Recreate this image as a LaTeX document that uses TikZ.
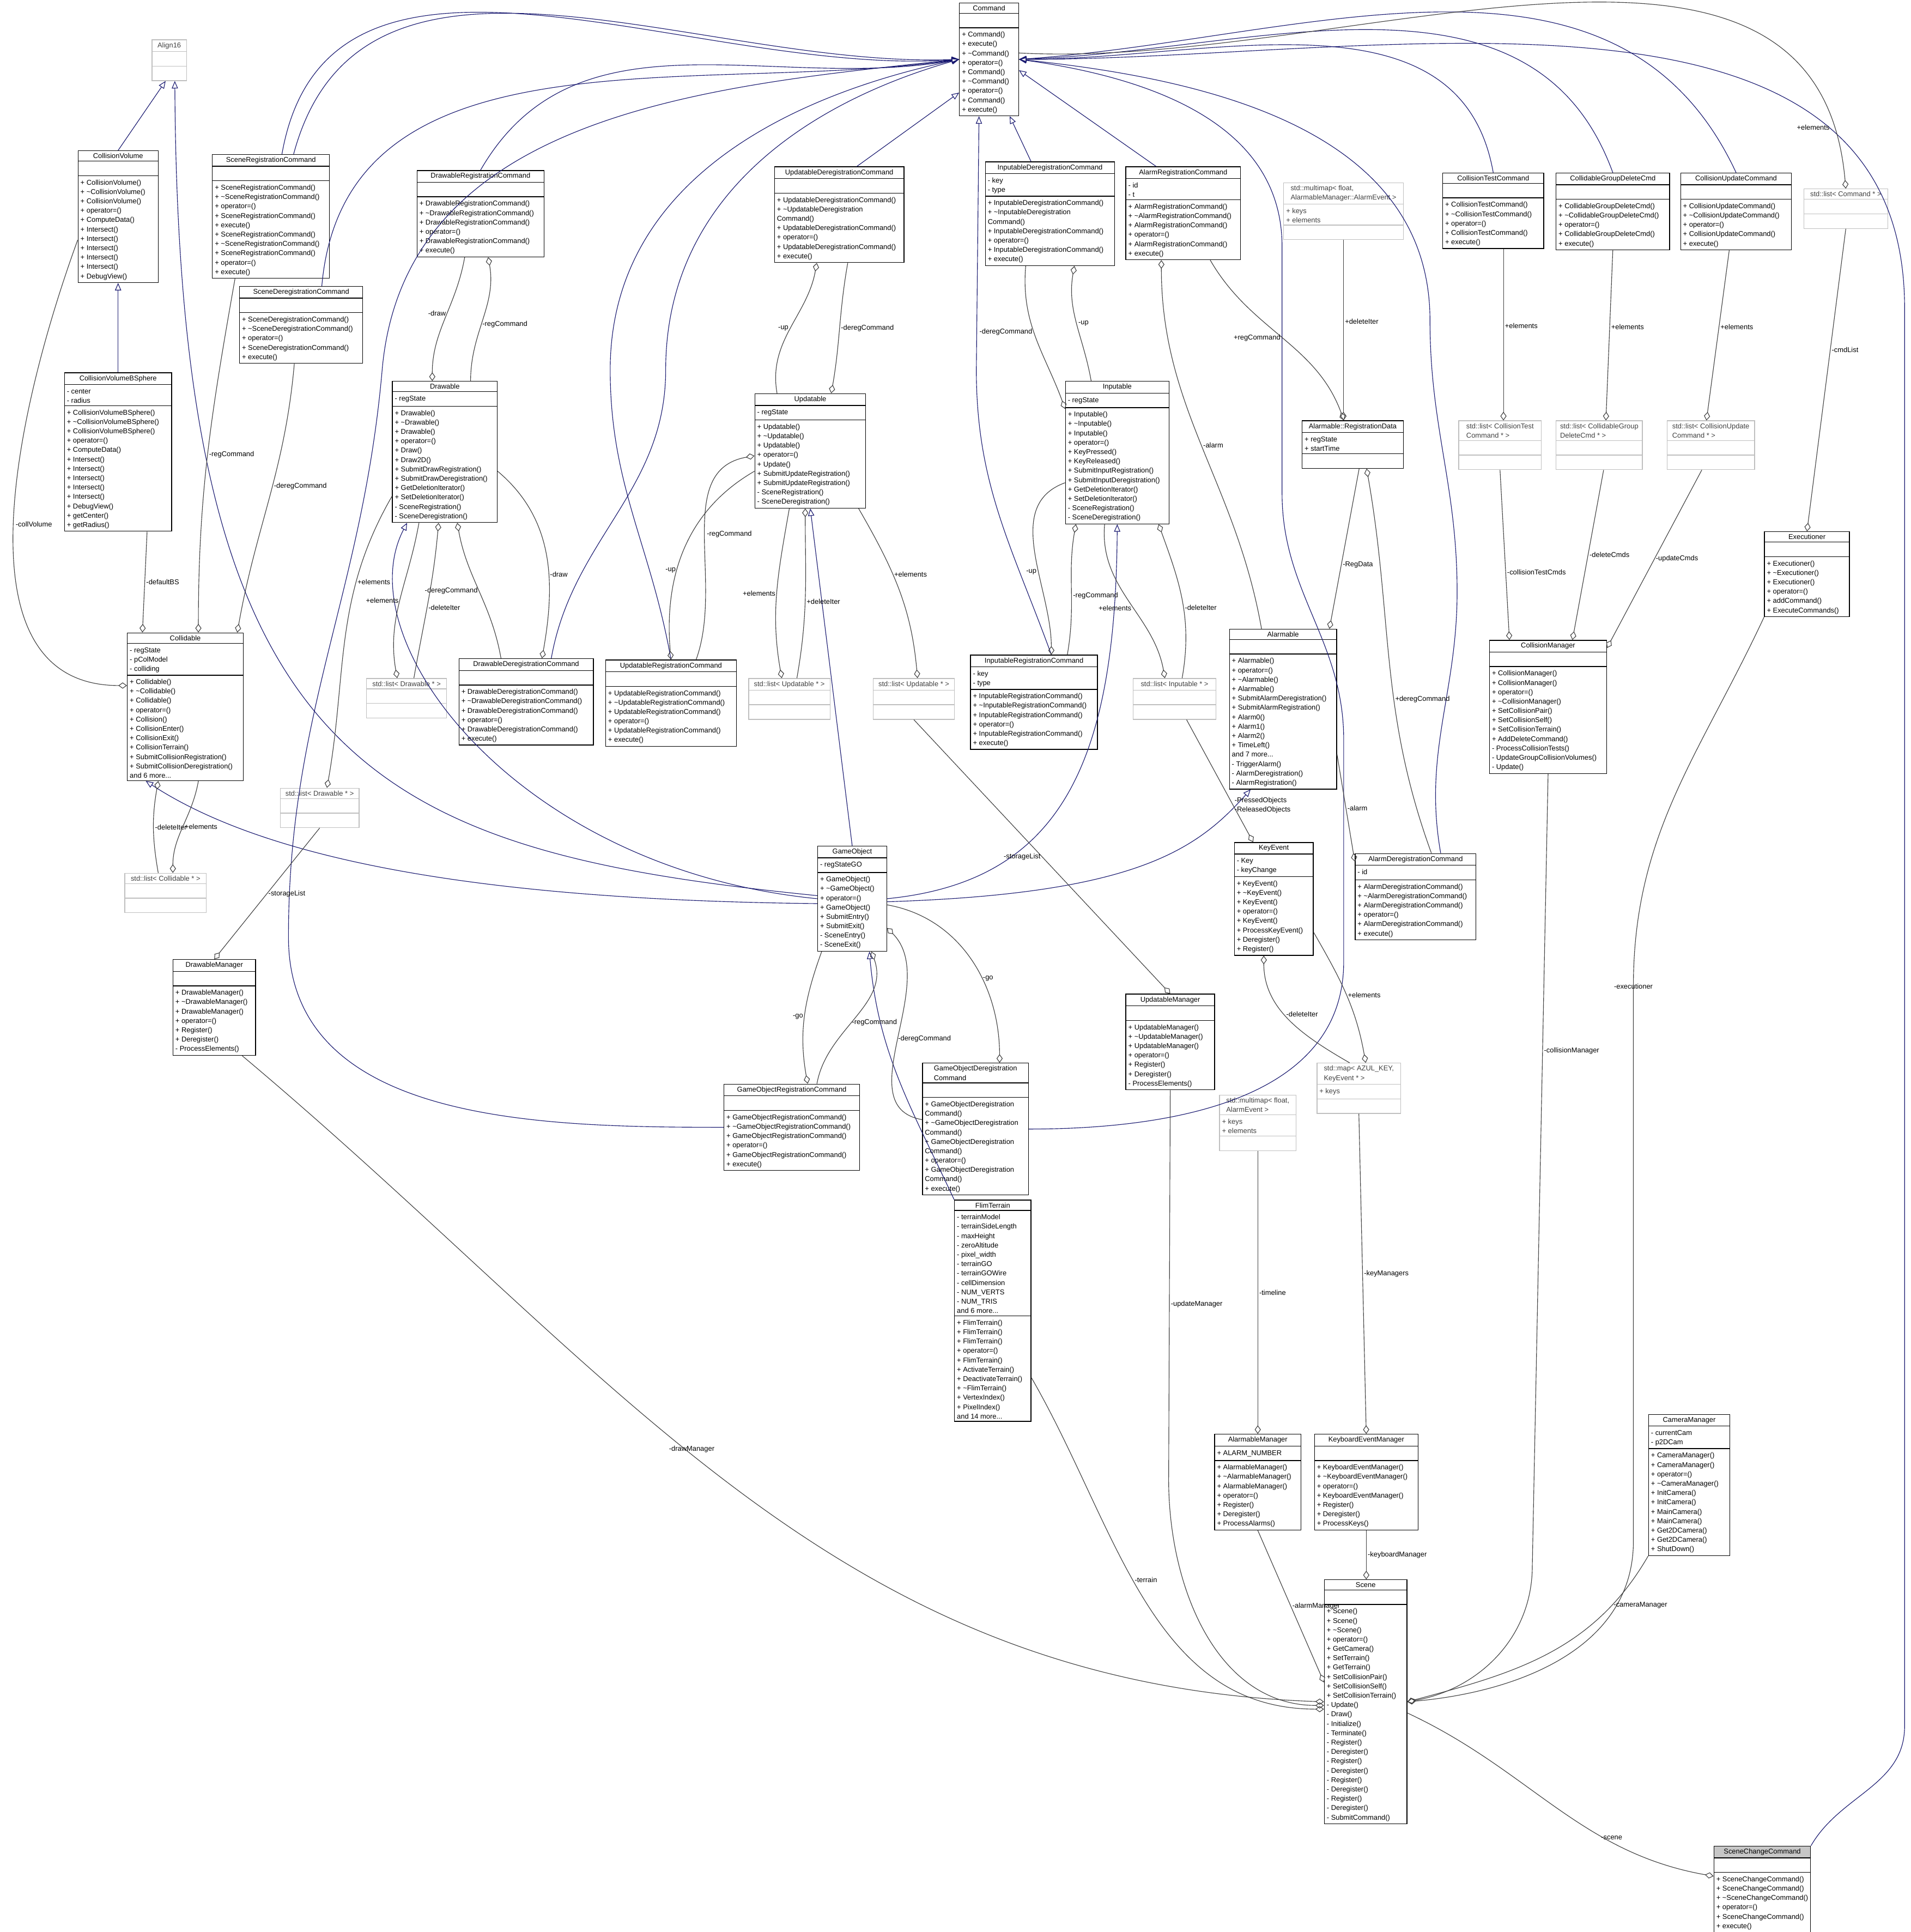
\documentclass[tikz,border=0pt]{standalone}
\usepackage{fontspec}
\setmainfont{Liberation Sans}
\usetikzlibrary{shapes.multipart,arrows.meta,calc}
\definecolor{navy}{RGB}{25,25,112}
\definecolor{edgegray}{RGB}{64,64,64}
\definecolor{boxgray}{RGB}{191,191,191}
\newcommand{\clsfont}{\fontsize{5.7}{7.6}\selectfont}
\newcommand{\dt}{\textasciitilde}
% class box: [options]{name}{x,y}{width}{title}{attributes}{methods}
\newcommand{\cls}[7][]{\node[cls,#1,minimum width=#4pt] (#2) at (#3) {#5\nodepart{two}\strut#6\nodepart{three}\strut#7};}

\begin{document}
\begin{tikzpicture}
[x=1pt,y=-1pt]
\tikzset{cls/.style={rectangle split, rectangle split parts=3, draw, anchor=north west, align=left,
  rectangle split part align={center,left,left},
  inner xsep=2pt, inner ysep=1.8pt, font=\clsfont, line width=.6pt}}
\tikzset{ext/.style={draw=boxgray, text=black!75}}
\tikzset{cur/.style={rectangle split part fill={gray!45,white,white}}}
\tikzset{inh/.style={draw=navy, line width=.5pt, -{Triangle[open,length=6pt,width=5pt]}}}
\tikzset{use/.style={draw=edgegray, line width=.5pt, -{Diamond[open,length=7pt,width=5pt]}}}
\tikzset{lbl/.style={font=\clsfont, inner sep=1pt, text=black}}
\useasboundingbox (0,0) rectangle (1550,1567);

% classes
\cls{cmd}{778,2}{48}{Command}{}{+ Command()\\+ execute()\\+ \dt Command()\\+ operator=()\\+ Command()\\+ \dt Command()\\+ operator=()\\+ Command()\\+ execute()}
\cls[ext]{al}{123,32}{28}{Align16}{}{}
\cls{cv}{63,122}{65}{CollisionVolume}{}{+ CollisionVolume()\\+ \dt CollisionVolume()\\+ CollisionVolume()\\+ operator=()\\+ ComputeData()\\+ Intersect()\\+ Intersect()\\+ Intersect()\\+ Intersect()\\+ Intersect()\\+ DebugView()}
\cls{src}{172,125}{95}{SceneRegistrationCommand}{}{+ SceneRegistrationCommand()\\+ \dt SceneRegistrationCommand()\\+ operator=()\\+ SceneRegistrationCommand()\\+ execute()\\+ SceneRegistrationCommand()\\+ \dt SceneRegistrationCommand()\\+ SceneRegistrationCommand()\\+ operator=()\\+ execute()}
\cls{drc}{338,138}{103}{DrawableRegistrationCommand}{}{+ DrawableRegistrationCommand()\\+ \dt DrawableRegistrationCommand()\\+ DrawableRegistrationCommand()\\+ operator=()\\+ DrawableRegistrationCommand()\\+ execute()}
\cls{udc}{628,135}{105}{UpdatableDeregistrationCommand}{}{+ UpdatableDeregistrationCommand()\\+ \dt UpdatableDeregistration\\Command()\\+ UpdatableDeregistrationCommand()\\+ operator=()\\+ UpdatableDeregistrationCommand()\\+ execute()}
\cls{idc}{799,131}{105}{InputableDeregistrationCommand}{- key\\- type}{+ InputableDeregistrationCommand()\\+ \dt InputableDeregistration\\Command()\\+ InputableDeregistrationCommand()\\+ operator=()\\+ InputableDeregistrationCommand()\\+ execute()}
\cls{arc}{913,135}{93}{AlarmRegistrationCommand}{- id\\- t}{+ AlarmRegistrationCommand()\\+ \dt AlarmRegistrationCommand()\\+ AlarmRegistrationCommand()\\+ operator=()\\+ AlarmRegistrationCommand()\\+ execute()}
\cls[ext]{mmap}{1041,148}{97}{std::multimap< float,\\ AlarmableManager::AlarmEvent >}{+ keys\\+ elements}{}
\cls{ctc}{1170,140}{82}{CollisionTestCommand}{}{+ CollisionTestCommand()\\+ \dt CollisionTestCommand()\\+ operator=()\\+ CollisionTestCommand()\\+ execute()}
\cls{cgd}{1262,140}{92}{CollidableGroupDeleteCmd}{}{+ CollidableGroupDeleteCmd()\\+ \dt CollidableGroupDeleteCmd()\\+ operator=()\\+ CollidableGroupDeleteCmd()\\+ execute()}
\cls{cuc}{1363,140}{90}{CollisionUpdateCommand}{}{+ CollisionUpdateCommand()\\+ \dt CollisionUpdateCommand()\\+ operator=()\\+ CollisionUpdateCommand()\\+ execute()}
\cls[ext]{lcmd}{1463,153}{68}{std::list< Command * >}{}{}
\cls{sdc}{194,232}{100}{SceneDeregistrationCommand}{}{+ SceneDeregistrationCommand()\\+ \dt SceneDeregistrationCommand()\\+ operator=()\\+ SceneDeregistrationCommand()\\+ execute()}
\cls{cvb}{52,302}{87}{CollisionVolumeBSphere}{- center\\- radius}{+ CollisionVolumeBSphere()\\+ \dt CollisionVolumeBSphere()\\+ CollisionVolumeBSphere()\\+ operator=()\\+ ComputeData()\\+ Intersect()\\+ Intersect()\\+ Intersect()\\+ Intersect()\\+ Intersect()\\+ DebugView()\\+ getCenter()\\+ getRadius()}
\cls{drw}{318,309}{85}{Drawable}{- regState}{+ Drawable()\\+ \dt Drawable()\\+ Drawable()\\+ operator=()\\+ Draw()\\+ Draw2D()\\+ SubmitDrawRegistration()\\+ SubmitDrawDeregistration()\\+ GetDeletionIterator()\\+ SetDeletionIterator()\\- SceneRegistration()\\- SceneDeregistration()}
\cls{upd}{612,319}{90}{Updatable}{- regState}{+ Updatable()\\+ \dt Updatable()\\+ Updatable()\\+ operator=()\\+ Update()\\+ SubmitUpdateRegistration()\\+ SubmitUpdateRegistration()\\- SceneRegistration()\\- SceneDeregistration()}
\cls{inp}{864,309}{84}{Inputable}{- regState}{+ Inputable()\\+ \dt Inputable()\\+ Inputable()\\+ operator=()\\+ KeyPressed()\\+ KeyReleased()\\+ SubmitInputRegistration()\\+ SubmitInputDeregistration()\\+ GetDeletionIterator()\\+ SetDeletionIterator()\\- SceneRegistration()\\- SceneDeregistration()}
\cls{rdat}{1056,341}{82}{Alarmable::RegistrationData}{+ regState\\+ startTime}{}
\cls[ext]{lctc}{1183,341}{67}{std::list< CollisionTest\\ Command * >}{}{}
\cls[ext]{lcgd}{1262,341}{70}{std::list< CollidableGroup\\ DeleteCmd * >}{}{}
\cls[ext]{lcuc}{1352,341}{71}{std::list< CollisionUpdate\\ Command * >}{}{}
\cls{exe}{1431,431}{69}{Executioner}{}{+ Executioner()\\+ \dt Executioner()\\+ Executioner()\\+ operator=()\\+ addCommand()\\+ ExecuteCommands()}
\cls{cld}{103,513}{94}{Collidable}{- regState\\- pColModel\\- colliding}{+ Collidable()\\+ \dt Collidable()\\+ Collidable()\\+ operator=()\\+ Collision()\\+ CollisionEnter()\\+ CollisionExit()\\+ CollisionTerrain()\\+ SubmitCollisionRegistration()\\+ SubmitCollisionDeregistration()\\and 6 more...}
\cls[ext]{ldrwa}{297,550}{65}{std::list< Drawable * >}{}{}
\cls{ddc}{372,534}{109}{DrawableDeregistrationCommand}{}{+ DrawableDeregistrationCommand()\\+ \dt DrawableDeregistrationCommand()\\+ DrawableDeregistrationCommand()\\+ operator=()\\+ DrawableDeregistrationCommand()\\+ execute()}
\cls{urc}{491,535}{106}{UpdatableRegistrationCommand}{}{+ UpdatableRegistrationCommand()\\+ \dt UpdatableRegistrationCommand()\\+ UpdatableRegistrationCommand()\\+ operator=()\\+ UpdatableRegistrationCommand()\\+ execute()}
\cls[ext]{lupda}{607,550}{66}{std::list< Updatable * >}{}{}
\cls[ext]{lupdb}{708,550}{66}{std::list< Updatable * >}{}{}
\cls{irc}{787,531}{103}{InputableRegistrationCommand}{- key\\- type}{+ InputableRegistrationCommand()\\+ \dt InputableRegistrationCommand()\\+ InputableRegistrationCommand()\\+ operator=()\\+ InputableRegistrationCommand()\\+ execute()}
\cls[ext]{linp}{919,550}{67}{std::list< Inputable * >}{}{}
\cls{alm}{997,510}{87}{Alarmable}{}{+ Alarmable()\\+ operator=()\\+ \dt Alarmable()\\+ Alarmable()\\+ SubmitAlarmDeregistration()\\+ SubmitAlarmRegistration()\\+ Alarm0()\\+ Alarm1()\\+ Alarm2()\\+ TimeLeft()\\and 7 more...\\- TriggerAlarm()\\- AlarmDeregistration()\\- AlarmRegistration()}
\cls{colm}{1208,519}{95}{CollisionManager}{}{+ CollisionManager()\\+ CollisionManager()\\+ operator=()\\+ \dt CollisionManager()\\+ SetCollisionPair()\\+ SetCollisionSelf()\\+ SetCollisionTerrain()\\+ AddDeleteCommand()\\- ProcessCollisionTests()\\- UpdateGroupCollisionVolumes()\\- Update()}
\cls[ext]{ldrwb}{227,639}{64}{std::list< Drawable * >}{}{}
\cls[ext]{lcld}{101,708}{66}{std::list< Collidable * >}{}{}
\cls{go}{663,686}{56}{GameObject}{- regStateGO}{+ GameObject()\\+ \dt GameObject()\\+ operator=()\\+ GameObject()\\+ SubmitEntry()\\+ SubmitExit()\\- SceneEntry()\\- SceneExit()}
\cls{kev}{1001,683}{64}{KeyEvent}{- Key\\- keyChange}{+ KeyEvent()\\+ \dt KeyEvent()\\+ KeyEvent()\\+ operator=()\\+ KeyEvent()\\+ ProcessKeyEvent()\\+ Deregister()\\+ Register()}
\cls{adc}{1099,692}{98}{AlarmDeregistrationCommand}{- id}{+ AlarmDeregistrationCommand()\\+ \dt AlarmDeregistrationCommand()\\+ AlarmDeregistrationCommand()\\+ operator=()\\+ AlarmDeregistrationCommand()\\+ execute()}
\cls{dmgr}{140,778}{67}{DrawableManager}{}{+ DrawableManager()\\+ \dt DrawableManager()\\+ DrawableManager()\\+ operator=()\\+ Register()\\+ Deregister()\\- ProcessElements()}
\cls{umgr}{913,806}{72}{UpdatableManager}{}{+ UpdatableManager()\\+ \dt UpdatableManager()\\+ UpdatableManager()\\+ operator=()\\+ Register()\\+ Deregister()\\- ProcessElements()}
\cls[ext]{kmap}{1068,862}{68}{std::map< AZUL\_KEY,\\ KeyEvent * >}{+ keys}{}
\cls{gorc}{587,879}{110}{GameObjectRegistrationCommand}{}{+ GameObjectRegistrationCommand()\\+ \dt GameObjectRegistrationCommand()\\+ GameObjectRegistrationCommand()\\+ operator=()\\+ GameObjectRegistrationCommand()\\+ execute()}
\cls{godc}{748,862}{86}{GameObjectDeregistration\\ Command}{}{+ GameObjectDeregistration\\Command()\\+ \dt GameObjectDeregistration\\Command()\\+ GameObjectDeregistration\\Command()\\+ operator=()\\+ GameObjectDeregistration\\Command()\\+ execute()}
\cls[ext]{tmap}{989,888}{62}{std::multimap< float,\\ AlarmEvent >}{+ keys\\+ elements}{}
\cls{flt}{774,973}{62}{FlimTerrain}{- terrainModel\\- terrainSideLength\\- maxHeight\\- zeroAltitude\\- pixel\_width\\- terrainGO\\- terrainGOWire\\- cellDimension\\- NUM\_VERTS\\- NUM\_TRIS\\and 6 more...}{+ FlimTerrain()\\+ FlimTerrain()\\+ FlimTerrain()\\+ operator=()\\+ FlimTerrain()\\+ ActivateTerrain()\\+ DeactivateTerrain()\\+ \dt FlimTerrain()\\+ VertexIndex()\\+ PixelIndex()\\and 14 more...}
\cls{camm}{1337,1147}{66}{CameraManager}{- currentCam\\- p2DCam}{+ CameraManager()\\+ CameraManager()\\+ operator=()\\+ \dt CameraManager()\\+ InitCamera()\\+ InitCamera()\\+ MainCamera()\\+ MainCamera()\\+ Get2DCamera()\\+ Get2DCamera()\\+ ShutDown()}
\cls{amgr}{985,1163}{70}{AlarmableManager}{+ ALARM\_NUMBER}{+ AlarmableManager()\\+ \dt AlarmableManager()\\+ AlarmableManager()\\+ operator=()\\+ Register()\\+ Deregister()\\+ ProcessAlarms()}
\cls{kmgr}{1066,1163}{84}{KeyboardEventManager}{}{+ KeyboardEventManager()\\+ \dt KeyboardEventManager()\\+ operator=()\\+ KeyboardEventManager()\\+ Register()\\+ Deregister()\\+ ProcessKeys()}
\cls{scn}{1074,1281}{67}{Scene}{}{+ Scene()\\+ Scene()\\+ \dt Scene()\\+ operator=()\\+ GetCamera()\\+ SetTerrain()\\+ GetTerrain()\\+ SetCollisionPair()\\+ SetCollisionSelf()\\+ SetCollisionTerrain()\\- Update()\\- Draw()\\- Initialize()\\- Terminate()\\- Register()\\- Deregister()\\- Register()\\- Deregister()\\- Register()\\- Deregister()\\- Register()\\- Deregister()\\- SubmitCommand()}
\cls[cur]{scc}{1390,1497}{77}{SceneChangeCommand}{}{+ SceneChangeCommand()\\+ SceneChangeCommand()\\+ \dt SceneChangeCommand()\\+ operator=()\\+ SceneChangeCommand()\\+ execute()}

% inheritance
\draw[inh] (cv.north) -- (al.-100);
\draw[inh] (cvb.north) -- (cv.south);
\draw[inh] (go.175) .. controls (300,690) and (145,620) .. (al.-75);
\draw[inh] (src.70) to[out=75,in=182] (cmd.west);
\draw[inh] (src.80) to[out=80,in=184] (cmd.west);
\draw[inh] (sdc.62) to[out=85,in=188] (cmd.west);
\draw[inh] (drc.north) to[out=60,in=190] (cmd.west);
\draw[inh] (gorc.west) to[out=180,in=-90] (234,760) to[out=90,in=-95] (310,300) to[out=85,in=186] (cmd.west);
\draw[inh] (urc.north) to[out=100,in=-90] (495,300) to[out=90,in=192] (cmd.west);
\draw[inh] (ddc.60) to[out=80,in=-90] (540,300) to[out=90,in=196] (cmd.west);
\draw[inh] (udc.70) -- (cmd.228);
\draw[inh] (irc.70) to[out=110,in=-90] (792,300) -- (cmd.-100);
\draw[inh] (idc.110) -- (cmd.-70);
\draw[inh] (arc.120) -- (cmd.-20);
\draw[inh] (ctc.north) to[out=100,in=0] (cmd.east);
\draw[inh] (cgd.north) to[out=110,in=2] (cmd.east);
\draw[inh] (cuc.north) to[out=115,in=4] (cmd.east);
\draw[inh] (godc.east) to[out=0,in=-90] (1090,780) -- (1090,600) to[out=90,in=-90] (1040,400) -- (1040,200) to[out=90,in=-8] (cmd.east);
\draw[inh] (adc.60) to[out=100,in=-90] (1182,480) to[out=90,in=-90] (1160,260) to[out=90,in=-6] (cmd.east);
\draw[inh] (scc.north east) to[out=60,in=-90] (1545,1400) -- (1545,250) to[out=90,in=0] (cmd.east);
\draw[inh] (go.north) -- (upd.south);
\draw[inh] (go.west) .. controls (420,705) and (280,520) .. (drw.-118);
\draw[inh] (go.188) .. controls (400,730) and (220,700) .. (cld.-118);
\draw[inh] (go.east) .. controls (860,715) and (905,620) .. (inp.south);
\draw[inh] (go.-5) .. controls (920,725) and (970,690) .. (alm.-112);
\draw[inh] (flt.north west) to[out=115,in=-85] (go.-72);

% associations
\draw[use] (cmd.12) to[out=-3,in=95] node[lbl,pos=.93,left=2pt] {+elements} (lcmd.north);
\draw[use] (lcmd.south) -- node[lbl,right,pos=.4] {-cmdList} (exe.north);
\draw[use] (exe.south west) to[out=-115,in=90] (1325,800) node[lbl] {-executioner} -- (1325,1250) to[out=-90,in=5] (scn.east);
\draw[use] (colm.south) -- (1243,1270) node[lbl,pos=.35,right] {-collisionManager} to[out=-90,in=10] (scn.east);
\draw[use] (camm.south west) to[out=-120,in=15] node[lbl,pos=.2,right] {-cameraManager} (scn.east);
\draw[use] (kmgr.south) -- node[lbl,right] {-keyboardManager} (kmgr.south|-scn.north);
\draw[use] (amgr.south) -- node[lbl,right] {-alarmManager} (scn.155);
\draw[use] (umgr.south) -- (948,1200) node[lbl,pos=.55,right] {-updateManager} to[out=-90,in=180] (scn.185);
\draw[use] (flt.-60) to[out=-60,in=180] node[lbl,pos=.45,right] {-terrain} (scn.190);
\draw[use] (dmgr.-60) to[out=-40,in=178] node[lbl,pos=.45,above] {-drawManager} (scn.180);
\draw[use] (scn.-15) to[out=-25,in=170] node[lbl,pos=.7,above] {-scene} (scc.165);
\draw[use] (tmap.south) -- node[lbl,right] {-timeline} (tmap.south|-amgr.north);
\draw[use] (kmap.south) -- node[lbl,right] {-keyManagers} (kmgr.north);
\draw[use] (kev.-40) to[out=-60,in=100] node[lbl,pos=.5,right] {+elements} (kmap.75);
\draw[use] (kmap.110) to[out=150,in=-90] node[lbl,pos=.55,right] {-deleteIter} (kev.-100);
\draw[use] (linp.-60) -- node[lbl,pos=.7,right,align=left] {-PressedObjects\\-ReleasedObjects} (kev.110);
\draw[use] (inp.-100) to[out=-95,in=100] node[lbl,pos=.55,left] {+elements} (linp.115);
\draw[use] (linp.70) to[out=80,in=-70] node[lbl,pos=.45,right] {-deleteIter} (inp.-60);
\draw[use] (drc.-110) to[out=-100,in=90] node[lbl,pos=.45,left] {-draw} (drw.100);
\draw[use] (drw.70) to[out=90,in=-80] node[lbl,pos=.45,right] {-regCommand} (drc.-80);
\draw[use] (ddc.120) to[out=100,in=-80] node[lbl,pos=.5,left] {-deregCommand} (drw.-80);
\draw[use] (drw.-20) to[out=-40,in=80] node[lbl,pos=.6,right] {-draw} (ddc.70);
\draw[use] (drw.-110) to[out=-100,in=100] node[lbl,pos=.5,left] {+elements} (ldrwa.115);
\draw[use] (ldrwa.70) to[out=80,in=-95] node[lbl,pos=.45,right] {-deleteIter} (drw.-95);
\draw[use] (drw.-140) to[out=-120,in=80] node[lbl,pos=.3,right] {+elements} (ldrwb.70);
\draw[use] (ldrwb.south) -- node[lbl,pos=.5,right] {-storageList} (dmgr.north);
\draw[use] (upd.120) to[out=100,in=-100] node[lbl,pos=.5,left] {-up} (udc.-115);
\draw[use] (udc.-80) to[out=-100,in=80] node[lbl,pos=.5,right] {-deregCommand} (upd.70);
\draw[use] (upd.-160) to[out=-150,in=95] node[lbl,pos=.6,left] {-up} (urc.north);
\draw[use] (urc.60) to[out=70,in=-170] node[lbl,pos=.5,right] {-regCommand} (upd.-175);
\draw[use] (upd.-110) to[out=-100,in=100] node[lbl,pos=.5,left] {+elements} (lupda.110);
\draw[use] (lupda.70) to[out=80,in=-90] node[lbl,pos=.45,right] {+deleteIter} (upd.-95);
\draw[use] (upd.-50) to[out=-60,in=95] node[lbl,pos=.4,right] {+elements} (lupdb.80);
\draw[use] (lupdb.south) -- node[lbl,pos=.5,left] {-storageList} (umgr.north);
\draw[use] (inp.110) to[out=100,in=-100] node[lbl,pos=.5,right] {-up} (idc.-65);
\draw[use] (idc.-115) to[out=-95,in=110] node[lbl,pos=.45,left] {-deregCommand} (inp.140);
\draw[use] (inp.-150) to[out=-160,in=90] node[lbl,pos=.6,left] {-up} (irc.70);
\draw[use] (irc.55) to[out=80,in=-100] node[lbl,pos=.45,right] {-regCommand} (inp.-120);
\draw[use] (cv.-150) to[out=-110,in=180] node[lbl,pos=.5,right] {-collVolume} (cld.160);
\draw[use] (cvb.-70) -- node[lbl,pos=.5,right] {-defaultBS} (cld.120);
\draw[use] (src.-120) to[out=-100,in=90] node[lbl,pos=.5,right] {-regCommand} (cld.80);
\draw[use] (sdc.-100) to[out=-95,in=80] node[lbl,pos=.45,right] {-deregCommand} (cld.55);
\draw[use] (lcld.110) to[out=100,in=-100] node[lbl,pos=.5,right] {-deleteIter} (cld.-110);
\draw[use] (cld.-80) to[out=-100,in=90] node[lbl,pos=.5,right] {+elements} (lcld.70);
\draw[use] (arc.-60) to[out=-60,in=110] node[lbl,pos=.5,left] {+regCommand} (rdat.110);
\draw[use] (mmap.south) -- node[lbl,pos=.45,right] {+deleteIter} (mmap.south|-rdat.north);
\draw[use] (alm.105) to[out=100,in=-90] node[lbl,pos=.5,right] {-alarm} (arc.-115);
\draw[use] (rdat.-75) -- node[lbl,pos=.6,right] {-RegData} (alm.60);
\draw[use] (adc.70) to[out=110,in=-80] node[lbl,pos=.4,right] {+deregCommand} (rdat.-60);
\draw[use] (alm.-40) -- node[lbl,pos=.5,right] {-alarm} (adc.150);
\draw[use] (ctc.-75) -- node[lbl,pos=.45,right] {+elements} (ctc.-75|-lctc.north);
\draw[use] (lctc.south) -- node[lbl,pos=.6,right] {-collisionTestCmds} (colm.120);
\draw[use] (cgd.-90) -- node[lbl,pos=.45,right] {+elements} (lcgd.75);
\draw[use] (lcgd.-80) -- node[lbl,pos=.5,right] {-deleteCmds} (colm.70);
\draw[use] (cuc.-100) -- node[lbl,pos=.45,right] {+elements} (lcuc.100);
\draw[use] (lcuc.-110) -- node[lbl,pos=.5,right] {-updateCmds} (colm.45);
\draw[use] (go.-120) to[out=-110,in=100] node[lbl,pos=.5,left] {-go} (gorc.70);
\draw[use] (gorc.60) to[out=80,in=-70] node[lbl,pos=.45,right] {-regCommand} (go.-70);
\draw[use] (godc.170) to[out=170,in=-45] node[lbl,pos=.5,right] {-deregCommand} (go.-40);
\draw[use] (go.-10) to[out=-10,in=90] node[lbl,pos=.6,right] {-go} (godc.70);
\end{tikzpicture}
\end{document}
